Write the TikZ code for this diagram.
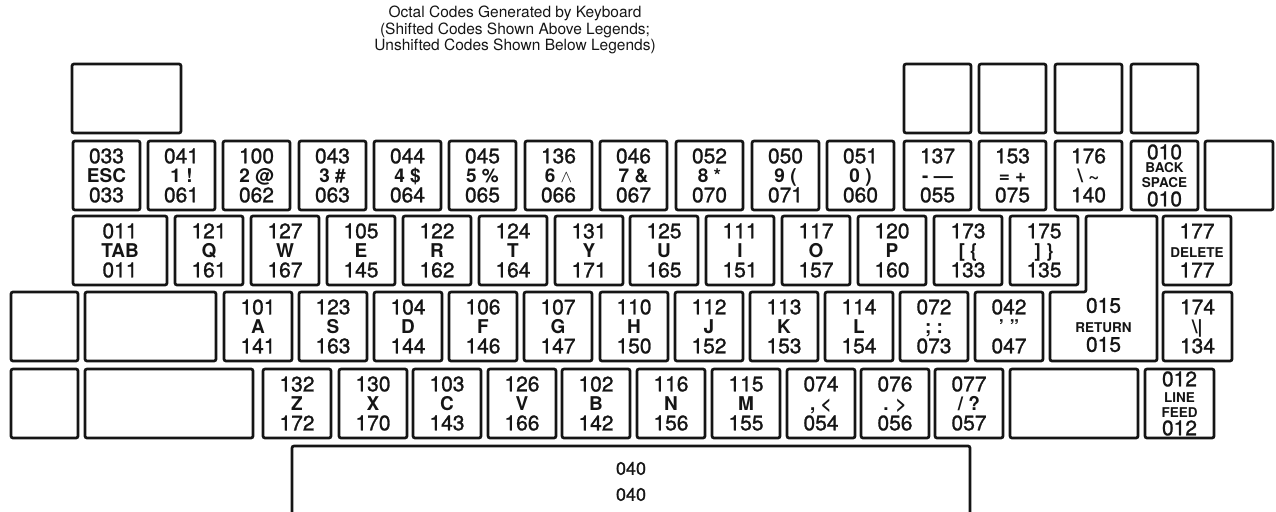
\documentclass[tikz,border=0pt]{standalone}
\usepackage{fontspec}
\setmainfont{TeX Gyre Heros}
\newfontfamily\kbface{TeX Gyre Heros}[FakeBold=1.2]
\usepackage{xcolor}
\usepackage{tikz}
\definecolor{KBInk}{HTML}{151515}
\newcommand{\kbleg}[1]{{\rmfamily\bfseries\fontsize{19}{19.5}\selectfont #1}}
\newcommand{\kbsmall}[1]{{\rmfamily\bfseries\fontsize{13.5}{15}\selectfont #1}}

\begin{document}
\begin{tikzpicture}[x=1pt,y=-1pt,
  key/.style={draw=KBInk,line width=2.7pt,rounded corners=2pt,anchor=north west,
    minimum width=67pt,minimum height=69pt,inner sep=0pt,outer sep=0pt,
    align=center,text=KBInk,font=\kbface\fontsize{21}{19.5}\selectfont},
  wkey/.style={key,minimum width=#1},
  caption/.style={align=center,text=KBInk,font=\fontsize{15.5}{16.8}\selectfont}]
\path[use as bounding box] (0,0) rectangle (1276,511);
\clip (0,0) rectangle (1276,511);
\node[caption] (title) at (515,30) {Octal Codes Generated by Keyboard\\(Shifted Codes Shown Above Legends;\\Unshifted Codes Shown Below Legends)};
% top row, blank
\node[wkey=109pt] (topl) at (72,64) {};
\node[key] (topa) at (904,64) {};
\node[key] (topb) at (979,64) {};
\node[key] (topc) at (1055,64) {};
\node[key] (topd) at (1131,64) {};
% number row
\node[key] (esc) at (73,141) {033\\\kbleg{ESC}\\033};
\node[key] (one) at (148,141) {041\\\kbleg{1 !}\\061};
\node[key] (two) at (223,141) {100\\\kbleg{2 @}\\062};
\node[key] (three) at (299,141) {043\\\kbleg{3 \#}\\063};
\node[key] (four) at (374,141) {044\\\kbleg{4 \$}\\064};
\node[key] (five) at (449,141) {045\\\kbleg{5 \%}\\065};
\node[key] (six) at (525,141) {136\\\kbleg{6 $\wedge$}\\066};
\node[key] (seven) at (600,141) {046\\\kbleg{7 \&}\\067};
\node[key] (eight) at (676,141) {052\\\kbleg{8 *}\\070};
\node[key] (nine) at (752,141) {050\\\kbleg{9 (}\\071};
\node[key] (zero) at (827,141) {051\\\kbleg{0 )}\\060};
\node[key] (minus) at (904,141) {137\\\kbleg{- \textemdash}\\055};
\node[key] (equal) at (979,141) {153\\\kbleg{= +}\\075};
\node[key] (bslash) at (1055,141) {176\\\kbleg{\textbackslash\ \textasciitilde}\\140};
\node[key] (bksp) at (1131,141) {010\\[-6.5pt]\kbsmall{BACK}\\[-4.5pt]\kbsmall{SPACE}\\[-0.5pt]010};
\node[wkey=68pt] (rblank) at (1205,141) {};
% upper letter row
\node[wkey=94pt] (tab) at (73,216) {011\\\kbleg{TAB}\\011};
\node[wkey=68pt] (q) at (175,216) {121\\\kbleg{Q}\\161};
\node[wkey=68pt] (w) at (251,216) {127\\\kbleg{W}\\167};
\node[wkey=68pt] (e) at (327,216) {105\\\kbleg{E}\\145};
\node[wkey=68pt] (r) at (403,216) {122\\\kbleg{R}\\162};
\node[wkey=68pt] (t) at (479,216) {124\\\kbleg{T}\\164};
\node[wkey=68pt] (y) at (555,216) {131\\\kbleg{Y}\\171};
\node[wkey=68pt] (u) at (630,216) {125\\\kbleg{U}\\165};
\node[wkey=68pt] (i) at (706,216) {111\\\kbleg{I}\\151};
\node[wkey=68pt] (o) at (782,216) {117\\\kbleg{O}\\157};
\node[wkey=68pt] (p) at (858,216) {120\\\kbleg{P}\\160};
\node[wkey=68pt] (lbrack) at (934,216) {173\\\kbleg{[ \{}\\133};
\node[wkey=68pt] (rbrack) at (1010,216) {175\\\kbleg{] \}}\\135};
\node[wkey=68pt] (del) at (1163,216) {177\\\kbsmall{DELETE}\\177};
% home row
\node[key] (lblc) at (11,292) {};
\node[wkey=131pt] (lwidec) at (85,292) {};
\node[wkey=68pt] (a) at (224,292) {101\\\kbleg{A}\\141};
\node[wkey=68pt] (s) at (299,292) {123\\\kbleg{S}\\163};
\node[wkey=68pt] (d) at (374,292) {104\\\kbleg{D}\\144};
\node[wkey=68pt] (f) at (449,292) {106\\\kbleg{F}\\146};
\node[wkey=68pt] (g) at (524,292) {107\\\kbleg{G}\\147};
\node[wkey=68pt] (h) at (600,292) {110\\\kbleg{H}\\150};
\node[wkey=68pt] (j) at (675,292) {112\\\kbleg{J}\\152};
\node[wkey=68pt] (k) at (750,292) {113\\\kbleg{K}\\153};
\node[wkey=68pt] (l) at (825,292) {114\\\kbleg{L}\\154};
\node[wkey=68pt] (semi) at (900,292) {072\\\kbleg{; :}\\073};
\node[wkey=68pt] (quote) at (975,292) {042\\\kbleg{’ ”}\\047};
\draw[KBInk,line width=2.7pt,rounded corners=2pt] (1086,216) -- (1157,216) -- (1157,361) -- (1050,361) -- (1050,292) -- (1086,292) -- cycle;
\node[align=center,text=KBInk,font=\kbface\fontsize{21}{19.5}\selectfont] (ret) at (1103.5,325) {015\\\kbsmall{RETURN}\\015};
\node[wkey=69pt] (vbar) at (1163,292) {174\\\kbleg{\textbackslash\textbar}\\134};
% lower letter row
\node[key] (lbld) at (11,369) {};
\node[wkey=168pt] (lwided) at (85,369) {};
\node[wkey=68pt] (z) at (263,369) {132\\\kbleg{Z}\\172};
\node[wkey=68pt] (x) at (339,369) {130\\\kbleg{X}\\170};
\node[wkey=68pt] (c) at (413,369) {103\\\kbleg{C}\\143};
\node[wkey=68pt] (v) at (488,369) {126\\\kbleg{V}\\166};
\node[wkey=68pt] (b) at (562,369) {102\\\kbleg{B}\\142};
\node[wkey=68pt] (n) at (637,369) {116\\\kbleg{N}\\156};
\node[wkey=68pt] (m) at (712,369) {115\\\kbleg{M}\\155};
\node[wkey=68pt] (comma) at (787,369) {074\\\kbleg{, <}\\054};
\node[wkey=68pt] (period) at (861,369) {076\\\kbleg{. >}\\056};
\node[wkey=68pt] (slash) at (935,369) {077\\\kbleg{/ ?}\\057};
\node[wkey=128pt] (rwided) at (1010,369) {};
\node[wkey=69pt] (lf) at (1145,369) {012\\[-3.5pt]\kbsmall{LINE}\\[-4.5pt]\kbsmall{FEED}\\[-1.5pt]012};
% space bar, open at the page edge
\node[wkey=678pt,minimum height=71pt,font=\kbface\fontsize{18}{26}\selectfont] (space) at (292,446) {040\\040};
\end{tikzpicture}
\end{document}
